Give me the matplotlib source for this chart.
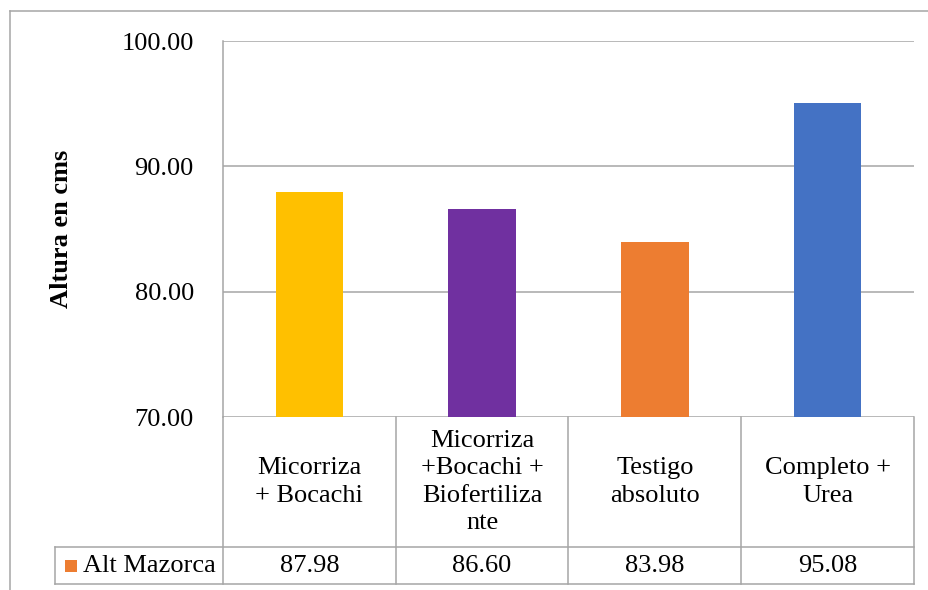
import matplotlib
matplotlib.use("Agg")
import matplotlib.pyplot as plt
from matplotlib.lines import Line2D
from matplotlib.patches import Rectangle
from matplotlib.transforms import blended_transform_factory

# Treatments (wrapped as shown in the data table) and mean ear height
categories = ["Micorriza\n+ Bocachi",
              "Micorriza\n+Bocachi +\nBiofertiliza\nnte",
              "Testigo\nabsoluto",
              "Completo +\nUrea"]
alt_mazorca = [87.98, 86.60, 83.98, 95.08]
series_name = "Alt Mazorca"
y_ticks = [70.00, 80.00, 90.00, 100.00]
bar_colors = ["#FFC000", "#7030A0", "#ED7D31", "#4472C4"]

plt.rcParams["font.family"] = ["Liberation Serif", "DejaVu Serif"]
FS = 19
GRAY = "#A6A6A6"
LW = 1.1

W, H = 929, 590
fig = plt.figure(figsize=(W / 100, H / 100), dpi=100)

# plot area in pixel units
left_px, right_px, top_px, bot_px = 223, 914, 41, 417
ax = fig.add_axes([left_px / W, 1 - bot_px / H,
                   (right_px - left_px) / W, (bot_px - top_px) / H])

x = list(range(len(categories)))
ax.bar(x, [v - y_ticks[0] for v in alt_mazorca], bottom=y_ticks[0],
       width=0.39, color=bar_colors, zorder=2)

ax.set_xlim(-0.5, len(categories) - 0.5)
ax.set_ylim(y_ticks[0], y_ticks[-1])
ax.set_yticks(y_ticks)
ax.set_yticklabels([f"{t:.2f}" for t in y_ticks], fontsize=FS)
ax.tick_params(axis="y", length=0, pad=21)
ax.set_xticks([])
ax.set_axisbelow(True)
ax.yaxis.grid(True, color=GRAY, linewidth=LW)
for s in ("top", "right", "bottom"):
    ax.spines[s].set_visible(False)
ax.spines["left"].set_color(GRAY)
ax.spines["left"].set_linewidth(LW)

# y-axis title
ax.text((61 - left_px) / (right_px - left_px), 0.5, "Altura en cms",
        transform=ax.transAxes, rotation=90, ha="center", va="center",
        fontsize=FS, fontweight="bold")

# data table below the plot area
ax_h = bot_px - top_px
col_w = (right_px - left_px) / len(categories)
y_mid = -(547 - bot_px) / ax_h
y_end = -(584 - bot_px) / ax_h
x_leg = -0.5 - (left_px - 55) / col_w
tr = blended_transform_factory(ax.transData, ax.transAxes)

def tline(xs, ys):
    ax.add_line(Line2D(xs, ys, transform=tr, color=GRAY, linewidth=LW,
                       clip_on=False))

for i in range(len(categories) + 1):
    xv = i - 0.5
    tline([xv, xv], [0, y_end])
tline([x_leg, len(categories) - 0.5], [y_mid, y_mid])
tline([x_leg, len(categories) - 0.5], [y_end, y_end])
tline([x_leg, x_leg], [y_mid, y_end])

for xi, cat, v in zip(x, categories, alt_mazorca):
    ax.text(xi, y_mid / 2, cat, transform=tr, ha="center", va="center",
            fontsize=FS, linespacing=1.33, clip_on=False)
    ax.text(xi, (y_mid + y_end) / 2, f"{v:.2f}", transform=tr,
            ha="center", va="center", fontsize=FS, clip_on=False)

# legend key inside the table
sq_x = -0.5 - (left_px - 65) / col_w
sq_w = 12 / col_w
sq_h = 12 / ax_h
sq_y = -(572 - bot_px) / ax_h
ax.add_patch(Rectangle((sq_x, sq_y), sq_w, sq_h, transform=tr,
                       facecolor=bar_colors[2], edgecolor="none",
                       clip_on=False))
ax.text(-0.5 - (left_px - 83) / col_w, (y_mid + y_end) / 2, series_name,
        transform=tr, ha="left", va="center", fontsize=FS, clip_on=False)

# chart frame (partially outside the canvas)
fig.add_artist(Line2D([10 / W, 10 / W], [0, 1 - 11 / H],
                      transform=fig.transFigure, color=GRAY, linewidth=LW))
fig.add_artist(Line2D([10 / W, 1], [1 - 11 / H, 1 - 11 / H],
                      transform=fig.transFigure, color=GRAY, linewidth=LW))

fig.savefig("out.png", dpi=100, facecolor="white")
